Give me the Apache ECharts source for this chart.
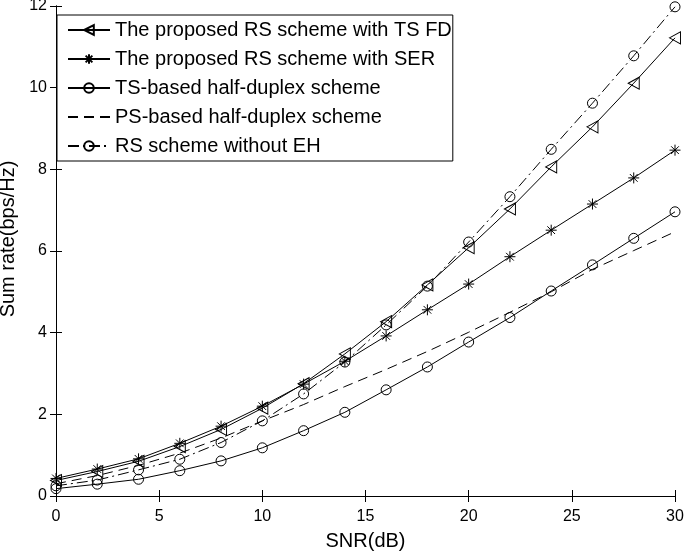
<!DOCTYPE html>
<html lang="en">
  <head>
    <meta charset="UTF-8" />
    <title>Sum rate vs SNR</title>
    <script src="https://cdn.jsdelivr.net/npm/echarts@6/dist/echarts.min.js"></script>
    <style>
      html, body { margin: 0; padding: 0; background: #fff; }
    </style>
  </head>
  <body>
    <div id="main" style="width: 685px; height: 556px"></div>
    <script>
      // SNR (dB)
      var snr = [0, 2, 4, 6, 8, 10, 12, 14, 16, 18, 20, 22, 24, 26, 28, 30];
      // sum rate values
      var tsFd = [0.38, 0.6, 0.85, 1.21, 1.63, 2.15, 2.75, 3.48, 4.27, 5.17, 6.08, 7.03, 8.06, 9.04, 10.11, 11.22];
      var ser = [0.43, 0.66, 0.91, 1.29, 1.71, 2.2, 2.74, 3.3, 3.92, 4.56, 5.19, 5.86, 6.51, 7.15, 7.79, 8.47];
      var tsHd = [0.18, 0.29, 0.41, 0.62, 0.86, 1.18, 1.6, 2.05, 2.6, 3.16, 3.77, 4.37, 5.02, 5.66, 6.31, 6.96];
      var psHd = [0.3, 0.5, 0.75, 1.05, 1.42, 1.84, 2.24, 2.68, 3.1, 3.54, 4.01, 4.5, 5.0, 5.55, 6.01, 6.47];
      var noEh = [0.25, 0.39, 0.64, 0.9, 1.31, 1.84, 2.5, 3.28, 4.19, 5.14, 6.22, 7.33, 8.49, 9.62, 10.78, 11.98];
      var names = [
        "The proposed RS scheme with TS FD",
        "The proposed RS scheme with SER",
        "TS-based half-duplex scheme",
        "PS-based half-duplex scheme",
        "RS scheme without EH",
      ];

      function pairs(ys) {
        return snr.map(function (x, i) {
          return [x, ys[i]];
        });
      }

      var font = "'Liberation Sans', Arial, sans-serif";
      var triLeft = "path://M0,5L10,0L10,10Z";
      var star = "path://M5,0L5,10M0,5L10,5M1.5,1.5L8.5,8.5M1.5,8.5L8.5,1.5";

      function line(name, ys, symbol, size, dash) {
        return {
          name: name,
          type: "line",
          data: pairs(ys),
          symbol: symbol,
          symbolSize: size,
          showAllSymbol: true,
          animation: false,
          z: 3,
          lineStyle: { color: "#000", width: 1, type: dash || "solid" },
          itemStyle: { color: "transparent", borderColor: "#000", borderWidth: 1 },
          emphasis: { disabled: true },
        };
      }

      // dashed PS curve has no markers, in the plot or in the legend
      var psSeries = line(names[3], psHd, "circle", 0, [10, 6]);
      psSeries.showSymbol = false;
      psSeries.itemStyle = { color: "transparent", borderColor: "transparent", borderWidth: 0 };

      var myChart = echarts.init(document.getElementById("main"));
      var axisCommon = {
        axisLine: { show: true, lineStyle: { color: "#000", width: 1 } },
        axisTick: { show: true, inside: true, length: 6, lineStyle: { color: "#000" } },
        splitLine: { show: false },
      };
      var option = {
        backgroundColor: "#fff",
        animation: false,
        grid: { left: 56, right: 10, top: 6, bottom: 60, outerBoundsMode: "none" },
        legend: {
          orient: "vertical",
          left: 57,
          top: 15,
          padding: [5, 1, 5, 10],
          itemGap: 9,
          itemWidth: 42,
          itemHeight: 12,
          borderColor: "#000",
          borderWidth: 1,
          backgroundColor: "#fff",
          textStyle: { color: "#000", fontSize: 20, fontFamily: font },
          data: names,
        },
        xAxis: [
          Object.assign({}, axisCommon, {
            type: "value",
            min: 0,
            max: 30,
            interval: 5,
            name: "SNR(dB)",
            nameLocation: "middle",
            nameGap: 35,
            nameTextStyle: { color: "#000", fontSize: 20, fontFamily: font },
            axisLabel: { color: "#000", fontSize: 16, fontFamily: font, margin: 13 },
          }),
          Object.assign({}, axisCommon, {
            type: "value",
            position: "top",
            min: 0,
            max: 30,
            interval: 5,
            axisLabel: { show: false },
          }),
        ],
        yAxis: [
          Object.assign({}, axisCommon, {
            type: "value",
            min: 0,
            max: 12,
            interval: 2,
            name: "Sum rate(bps/Hz)",
            nameLocation: "middle",
            nameGap: 32,
            nameTextStyle: { color: "#000", fontSize: 20, fontFamily: font, padding: [0, 0, 0, 24] },
            axisLabel: { color: "#000", fontSize: 16, fontFamily: font, margin: 9 },
          }),
          Object.assign({}, axisCommon, {
            type: "value",
            position: "right",
            min: 0,
            max: 12,
            interval: 2,
            axisLabel: { show: false },
          }),
        ],
        series: [
          line(names[0], tsFd, triLeft, [11, 12]),
          line(names[1], ser, star, 11),
          line(names[2], tsHd, "circle", 10),
          psSeries,
          line(names[4], noEh, "circle", 10, [11, 4, 2, 4]),
        ],
      };
      myChart.setOption(option);
    </script>
  </body>
</html>
